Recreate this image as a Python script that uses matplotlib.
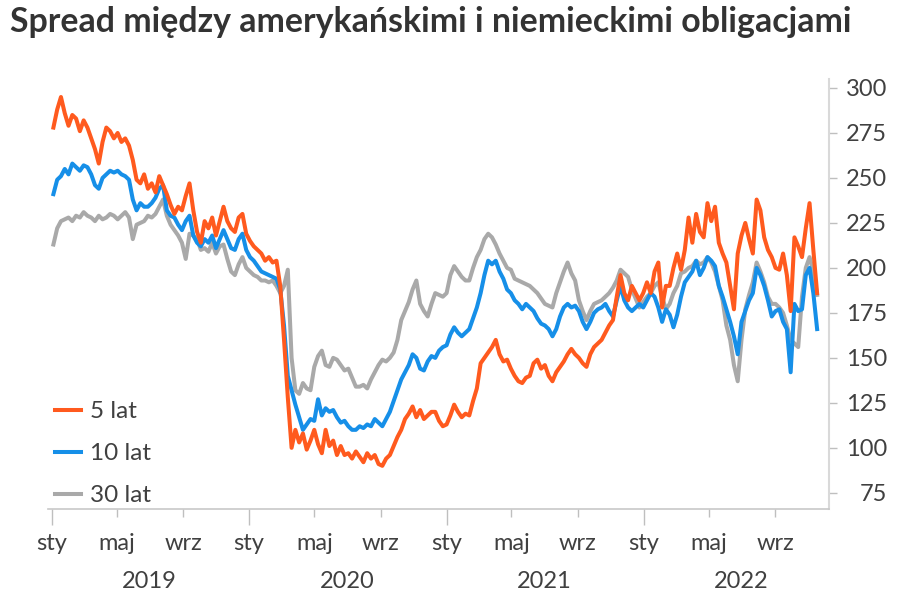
import matplotlib
matplotlib.use("Agg")
import matplotlib.pyplot as plt
import pandas as pd

# weekly readings (Fridays), Jan 2019 - Nov 2022, in basis points
dates = pd.date_range("2019-01-04", "2022-11-18", freq="W-FRI")

spread_5y = [
    # 2019
    278, 288, 295, 286, 279, 285, 283, 276, 282, 278, 272, 266, 258, 270, 278, 276, 272, 275, 270, 272,
    268, 260, 249, 247, 252, 244, 247, 242, 251, 246, 241, 235, 230, 234, 232, 240, 247, 232, 220, 214,
    226, 222, 228, 218, 226, 234, 226, 222, 220, 228, 230, 219,
    # 2020
    215, 212, 210, 208, 204, 206, 203, 204, 190, 160, 128, 100, 110, 103, 108, 99, 104, 110, 102, 97,
    110, 101, 104, 96, 101, 96, 97, 94, 98, 95, 92, 97, 94, 96, 91, 90, 94, 96, 101, 106,
    110, 116, 119, 123, 117, 121, 116, 118, 120, 120, 115, 112,
    # 2021
    113, 118, 124, 120, 117, 119, 118, 126, 133, 147, 150, 153, 156, 160, 152, 148, 149, 144, 140, 137,
    136, 139, 140, 147, 149, 144, 146, 140, 137, 142, 145, 148, 152, 155, 152, 150, 147, 145, 152, 156,
    158, 160, 164, 168, 171, 184, 196, 186, 182, 190, 186, 182, 186,
    # 2022
    192, 186, 198, 203, 178, 190, 190, 200, 208, 199, 210, 228, 214, 230, 220, 217, 236, 226, 234, 214,
    208, 203, 190, 177, 208, 218, 225, 216, 208, 238, 232, 217, 210, 206, 200, 199, 208, 196, 176, 217,
    212, 206, 222, 236, 210, 186,
]
spread_10y = [
    # 2019
    241, 249, 251, 255, 252, 258, 256, 254, 257, 256, 252, 246, 244, 250, 252, 254, 253, 254, 252, 251,
    249, 238, 232, 236, 234, 234, 236, 239, 244, 246, 232, 229, 228, 224, 221, 226, 229, 218, 214, 212,
    216, 214, 218, 211, 216, 221, 216, 211, 210, 216, 219, 210,
    # 2020
    206, 204, 201, 198, 197, 196, 195, 194, 188, 168, 140, 132, 124, 117, 110, 113, 116, 115, 127, 118,
    122, 120, 121, 117, 114, 115, 112, 110, 110, 112, 111, 113, 112, 116, 114, 112, 116, 120, 126, 132,
    138, 142, 146, 152, 150, 144, 143, 148, 151, 150, 154, 156,
    # 2021
    157, 163, 167, 164, 162, 164, 166, 172, 178, 186, 196, 204, 202, 204, 198, 194, 188, 186, 182, 180,
    177, 180, 178, 176, 172, 169, 168, 166, 162, 166, 173, 178, 180, 178, 179, 176, 170, 166, 170, 175,
    177, 178, 180, 176, 173, 182, 190, 182, 178, 176, 178, 180, 178,
    # 2022
    182, 186, 184, 178, 170, 177, 174, 167, 174, 184, 192, 195, 198, 204, 196, 200, 206, 204, 201, 190,
    184, 177, 170, 162, 152, 170, 176, 182, 186, 200, 196, 190, 182, 173, 176, 177, 170, 166, 142, 180,
    176, 177, 196, 200, 186, 166,
]
spread_30y = [
    # 2019
    213, 222, 226, 227, 228, 226, 229, 228, 231, 229, 228, 226, 229, 227, 228, 230, 229, 227, 229, 231,
    228, 216, 224, 225, 226, 229, 228, 230, 234, 238, 229, 224, 221, 218, 214, 205, 219, 218, 216, 210,
    211, 209, 214, 208, 212, 213, 205, 198, 196, 202, 206, 200,
    # 2020
    198, 196, 195, 193, 193, 192, 193, 190, 186, 190, 199, 150, 132, 130, 136, 133, 132, 145, 151, 154,
    146, 145, 150, 149, 146, 143, 144, 139, 134, 134, 135, 133, 138, 142, 146, 149, 148, 150, 153, 160,
    171, 176, 181, 188, 193, 180, 176, 173, 180, 186, 185, 184,
    # 2021
    186, 196, 201, 198, 195, 193, 193, 200, 206, 210, 216, 219, 217, 213, 208, 204, 200, 199, 194, 193,
    192, 191, 190, 188, 186, 183, 180, 179, 178, 186, 192, 198, 203, 197, 193, 182, 176, 171, 176, 180,
    181, 182, 184, 186, 189, 193, 199, 197, 195, 188, 183, 178, 181,
    # 2022
    184, 186, 190, 192, 184, 177, 180, 186, 190, 197, 198, 200, 201, 204, 202, 203, 206, 203, 198, 190,
    182, 168, 160, 146, 137, 160, 177, 185, 192, 203, 198, 192, 184, 180, 180, 178, 175, 168, 160, 158,
    156, 184, 200, 206, 198, 185,
]

years = [2019, 2020, 2021, 2022]
month_names = ["sty", "maj", "wrz"]
y_ticks = [75, 100, 125, 150, 175, 200, 225, 250, 275, 300]

ORANGE = "#ff5a1e"
BLUE = "#168fe8"
GREY = "#a9a9a9"
TEXT = "#404040"

plt.rcParams["font.family"] = ["Lato", "DejaVu Sans"]

fig = plt.figure(figsize=(8.97, 6.06), dpi=100)
ax = fig.add_axes([48 / 897, 1 - 509 / 606, (829 - 48) / 897, 430 / 606])

l30, = ax.plot(dates, spread_30y, color=GREY, lw=2.9, label="30 lat")
l10, = ax.plot(dates, spread_10y, color=BLUE, lw=2.9, label="10 lat")
l5, = ax.plot(dates, spread_5y, color=ORANGE, lw=2.9, label="5 lat")

ax.set_xlim(pd.Timestamp("2018-12-25"), pd.Timestamp("2022-12-10"))
ax.set_ylim(66, 305)

for s in ["left", "top"]:
    ax.spines[s].set_visible(False)
ax.spines["right"].set_color("#d9d9d9")
ax.spines["right"].set_linewidth(1.5)
ax.spines["bottom"].set_color("#c8c8c8")
ax.spines["bottom"].set_linewidth(1.2)

# y axis on the right, right-aligned labels
ax.yaxis.tick_right()
ax.set_yticks(y_ticks, [str(v) for v in y_ticks])
ax.tick_params(axis="y", length=6, width=1, color="#bfbfbf", pad=36,
               labelsize=17, labelcolor=TEXT)
plt.setp(ax.get_yticklabels(), ha="right")

# x axis: long ticks at January, short ones at May / September
major = [pd.Timestamp(f"{y}-01-01") for y in years]
minor = [pd.Timestamp(f"{y}-{m:02d}-01") for y in years for m in (5, 9)]
ax.set_xticks(major, [month_names[0]] * len(major))
ax.set_xticks(minor, [month_names[1], month_names[2]] * len(years), minor=True)
ax.tick_params(axis="x", which="major", length=11.5, width=1, color="#bfbfbf",
               pad=6, labelsize=17, labelcolor=TEXT)
ax.tick_params(axis="x", which="minor", length=5.8, width=1, color="#bfbfbf",
               pad=11.7, labelsize=17, labelcolor=TEXT)

for y in years:
    ax.text(pd.Timestamp(f"{y}-07-01"), -0.168, str(y), transform=ax.get_xaxis_transform(),
            ha="center", va="center", fontsize=17, color=TEXT)

ax.legend(handles=[l5, l10, l30], loc="upper left", bbox_to_anchor=(0.009, 0.251),
          frameon=False, fontsize=17.5, handlelength=1.05, handletextpad=0.4,
          labelspacing=0.87, borderpad=0, borderaxespad=0, labelcolor=TEXT)

fig.text(10 / 897, 1 - 22 / 606, "Spread między amerykańskimi i niemieckimi obligacjami",
         fontsize=24.4, fontweight="bold", color="#333333", va="center", ha="left")

fig.savefig("out.png", dpi=100)
